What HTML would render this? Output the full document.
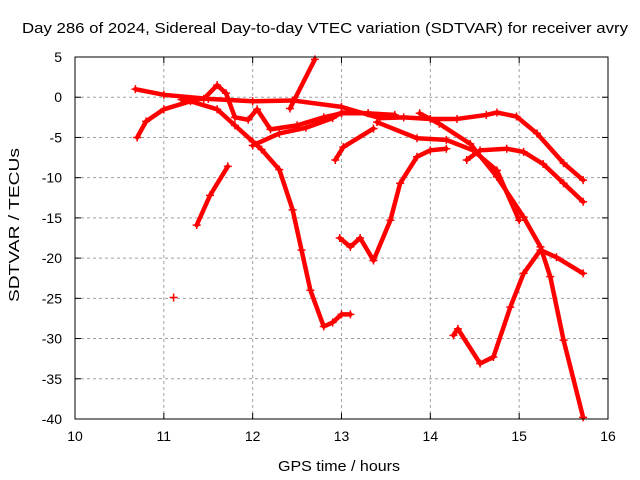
<!DOCTYPE html>
<html><head><meta charset="utf-8"><style>
body{margin:0;background:#fff;}
svg{display:block;font-family:"Liberation Sans",sans-serif;}
</style></head><body>
<svg id="chart" width="640" height="480">
<text x="22" y="33" font-size="15" textLength="606" lengthAdjust="spacingAndGlyphs">Day 286 of 2024, Sidereal Day-to-day VTEC variation (SDTVAR) for receiver avry</text>
<g id="grid"></g><g id="ticks"></g><g id="series"></g>
<rect x="75" y="57" width="533" height="362" fill="none" stroke="#000" stroke-width="1"/>
<text x="278" y="471" font-size="15" textLength="122" lengthAdjust="spacingAndGlyphs">GPS time / hours</text>
<text transform="translate(19,302) rotate(-90)" font-size="15" textLength="154" lengthAdjust="spacingAndGlyphs">SDTVAR / TECUs</text>
</svg>
<script>
const xTicks=[10,11,12,13,14,15,16];
const yTicks=[5,0,-5,-10,-15,-20,-25,-30,-35,-40];
const trackA=[[10.68,1],[11,0.3],[11.5,-0.2],[12,-0.5],[12.45,-0.4],[13,-1.2],[13.43,-2.6],[13.7,-2.5],[14,-2.7],[14.3,-2.7],[14.63,-2.2],[14.75,-1.9],[14.97,-2.4],[15.2,-4.5],[15.5,-8.2],[15.72,-10.3]];
const trackB=[[11.2,-0.3],[11.45,-0.2],[11.6,1.5],[11.7,0.5],[11.8,-2.5],[11.95,-2.8],[12.05,-1.5],[12.2,-4],[12.5,-3.5],[12.8,-2.5],[13.0,-2],[13.3,-2],[13.6,-2.3]];
const trackC=[[10.7,-5],[10.8,-3],[11,-1.5],[11.3,-0.5],[11.6,-1.5],[11.8,-3.5],[12,-5.5],[12.1,-6.5],[12.3,-9],[12.45,-14],[12.55,-19],[12.65,-24],[12.8,-28.5],[12.9,-28],[13.0,-27],[13.1,-27]];
const trackD=[[12,-6],[12.3,-4.5],[12.6,-3.8],[12.9,-2.6],[13.0,-1.9],[13.3,-2.0],[13.6,-2.2]];
const trackE=[[13.4,-3.1],[13.85,-5.1],[14.18,-5.3],[14.48,-6.6],[14.75,-9.1],[15.0,-15.3]];
const trackF=[[13.88,-2.0],[14.1,-3.3],[14.45,-5.8],[14.75,-9.9],[15.05,-14.9],[15.24,-18.6],[15.35,-22.3],[15.5,-30.2],[15.72,-39.8]];
const trackG=[[14.41,-7.8],[14.56,-6.6],[14.86,-6.4],[15.05,-6.8],[15.27,-8.3],[15.5,-10.7],[15.72,-13.0]];
const trackH=[[12.93,-7.8],[13.02,-6.2],[13.36,-3.9]];
const trackI=[[12.98,-17.5],[13.1,-18.6],[13.21,-17.5],[13.36,-20.3],[13.55,-15.3],[13.66,-10.7],[13.85,-7.4],[14.0,-6.6],[14.18,-6.4]];
const trackJ=[[14.26,-29.6],[14.31,-28.8],[14.56,-33.1],[14.71,-32.3],[14.9,-26.1],[15.05,-21.9],[15.24,-19.0],[15.42,-19.9],[15.72,-21.9]];
const trackK=[[11.37,-15.9],[11.52,-12.2],[11.72,-8.6]];
const trackL=[[11.11,-24.9]];
const trackM=[[12.42,-1.4],[12.7,4.7]];
const tracks=[trackA,trackB,trackC,trackD,trackE,trackF,trackG,trackH,trackI,trackJ,trackK,trackL,trackM];
const NS="http://www.w3.org/2000/svg";
const X=h=>75+(h-10)*(533/6);
const Y=v=>57+(5-v)*(362/45);
function mk(tag,attrs,parent){const e=document.createElementNS(NS,tag);for(const k in attrs)e.setAttribute(k,attrs[k]);parent.appendChild(e);return e;}
const grid=document.getElementById('grid'),ticks=document.getElementById('ticks'),ser=document.getElementById('series');
xTicks.forEach(t=>{
 if(t>10&&t<16){const g=mk('line',{x1:X(t),x2:X(t),y1:57,y2:419,stroke:'#a0a0a0','stroke-dasharray':'3,3'},grid);
 
 }
 mk('line',{x1:X(t),x2:X(t),y1:419,y2:413,stroke:'#000'},ticks);
 mk('line',{x1:X(t),x2:X(t),y1:57,y2:63,stroke:'#000'},ticks);
 const l=mk('text',{x:X(t),y:441,'font-size':14,'text-anchor':'middle'},ticks);l.textContent=t;
 
 
});
yTicks.forEach(t=>{
 if(t<5&&t>-40){const g=mk('line',{x1:75,x2:608,y1:Y(t),y2:Y(t),stroke:'#a0a0a0','stroke-dasharray':'3,3'},grid);
 
 }
 mk('line',{x1:75,x2:81,y1:Y(t),y2:Y(t),stroke:'#000'},ticks);
 mk('line',{x1:608,x2:602,y1:Y(t),y2:Y(t),stroke:'#000'},ticks);
 const l=mk('text',{x:62,y:Y(t)+5,'font-size':14,'text-anchor':'end'},ticks);l.textContent=t;
 
 
});
tracks.forEach((tr,i)=>{
 const g=mk('g',{},ser);
 
 
 if(tr.length>1) mk('polyline',{points:tr.map(p=>X(p[0])+','+Y(p[1])).join(' '),fill:'none',stroke:'#f00','stroke-width':4.5,'stroke-linejoin':'round','stroke-linecap':'round'},g);
 tr.forEach(p=>{const x=X(p[0]),y=Y(p[1]);
  mk('path',{d:`M${x-4},${y}H${x+4}M${x},${y-4}V${y+4}`,stroke:'#f00','stroke-width':1.5},g);});
});
</script>
</body></html>
